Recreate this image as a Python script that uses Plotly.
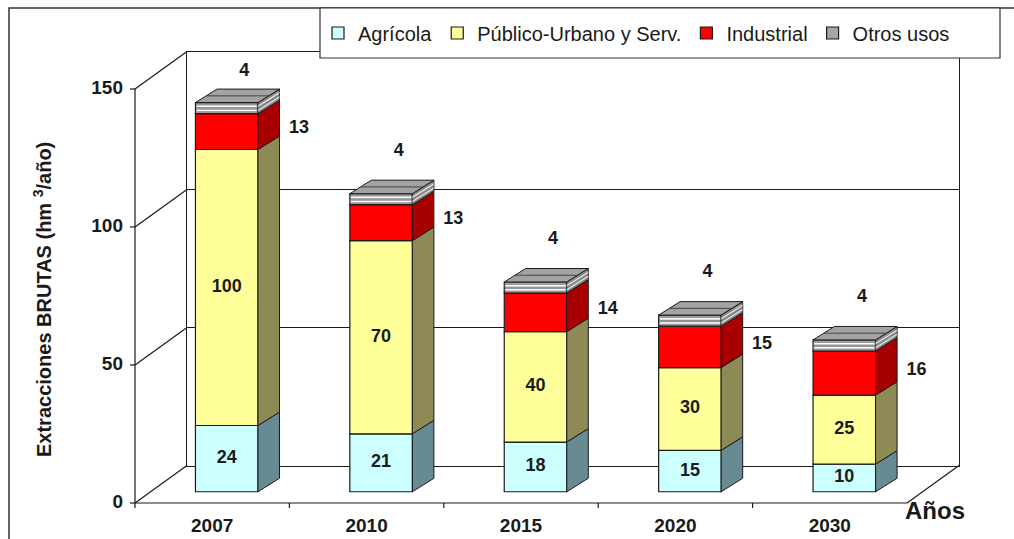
import plotly.graph_objects as go

# ---------------- data ----------------
years = ["2007", "2010", "2015", "2020", "2030"]
agricola = [24, 21, 18, 15, 10]
publico = [100, 70, 40, 30, 25]
industrial = [13, 13, 14, 15, 16]
otros = [4, 4, 4, 4, 4]
y_ticks = [0, 50, 100, 150]
series_names = ["Agrícola", "Público-Urbano y Serv.", "Industrial", "Otros usos"]
y_title = "Extracciones BRUTAS (hm <sup>3</sup>/año)"
x_title = "Años"

# ---------------- layout constants ----------------
W, H = 1014, 539
X0_PX = 135.0          # front-left edge of category axis (pixels)
CAT_PX = 154.4         # pixels per category
Y0_PX = 503.0          # front baseline (pixels)
UNIT_PX = 2.76         # pixels per value unit
WALL_DX_PX, WALL_DY_PX = 52.0, 37.5     # full depth offset of the walls
BAR_FRONT = 0.30                          # depth fraction of bar front faces
BAR_SIDE_DX_PX, BAR_SIDE_DY_PX = 21.5, 13.5
BAR_WIDTH = 0.405
BAR_SHIFT = 0.094
YMAX = 150

front_col = ["#CCFFFF", "#FFFF99", "#FF0000", "#A6A6A6"]
side_col = ["#688A92", "#8E8A55", "#A80000", "#8C8C8C"]
top_col = "#A3A3A3"
line_col = "#1a1a1a"
FONT = "Liberation Sans, Arial, sans-serif"

xr = [-0.5 - X0_PX / CAT_PX, -0.5 + (W - X0_PX) / CAT_PX]
yr = [-(H - Y0_PX) / UNIT_PX, Y0_PX / UNIT_PX]
WDX = WALL_DX_PX / CAT_PX
WDY = WALL_DY_PX / UNIT_PX
BDX = BAR_SIDE_DX_PX / CAT_PX
BDY = BAR_SIDE_DY_PX / UNIT_PX
BASE = BAR_FRONT * WDY
n = len(years)
xs = list(range(n))

series = [agricola, publico, industrial, otros]
cum = []
acc = [0] * n
for s in series:
    cum.append(acc[:])
    acc = [a + v for a, v in zip(acc, s)]
totals = acc

fig = go.Figure()

# back wall subplot (xy) - only axes frame + grid
fig.add_trace(go.Scatter(x=[0.5], y=[75], xaxis="x", yaxis="y", mode="markers",
                         marker=dict(size=1, opacity=0),
                         showlegend=False, hoverinfo="skip"))

# ------------- wall / axis lines on main subplot -------------
lx, ly = [], []
def seg(x0, y0, x1, y1):
    lx.extend([x0, x1, None]); ly.extend([y0, y1, None])

left = -0.5
right = n - 0.5
tick_y = 5 / UNIT_PX
tick_x = 5 / CAT_PX
seg(left, -tick_y, left, YMAX)
seg(left, 0, right, 0)
for v in y_ticks:
    seg(left, v, left + WDX, v + WDY)
    seg(left - tick_x, v, left, v)
seg(right, 0, right + WDX, WDY)
for k in range(n - 1):
    seg(k + 0.5, 0, k + 0.5, -tick_y)
fig.add_trace(go.Scatter(x=lx, y=ly, mode="lines", xaxis="x2", yaxis="y2",
                         line=dict(color=line_col, width=1.2),
                         showlegend=False, hoverinfo="skip"))

# ------------- bars (front faces) -------------
bx = [k + BAR_SHIFT for k in xs]
for i, (name, s) in enumerate(zip(series_names, series)):
    fig.add_trace(go.Bar(
        x=bx, y=s, base=[c + BASE for c in cum[i]], width=[BAR_WIDTH] * n,
        name=name, xaxis="x2", yaxis="y2",
        marker=dict(color=front_col[i], line=dict(color=line_col, width=1.2)),
        hoverinfo="skip"))

# white stripes inside "Otros usos"
stripes = [(0.18, 0.40), (0.55, 0.78)]
for lo, hi in stripes:
    fig.add_trace(go.Bar(
        x=bx, y=[(hi - lo) * v for v in otros],
        base=[c + BASE + lo * v for c, v in zip(cum[3], otros)],
        width=[BAR_WIDTH - 0.01] * n, xaxis="x2", yaxis="y2", showlegend=False,
        marker=dict(color="white", line=dict(color="#666666", width=0.6)),
        hoverinfo="skip"))

# ------------- side faces -------------
def side_poly(vals_lo, vals_hi):
    px, py = [], []
    for k in xs:
        xrgt = k + BAR_SHIFT + BAR_WIDTH / 2
        lo = vals_lo[k] + BASE
        hi = vals_hi[k] + BASE
        px.extend([xrgt, xrgt + BDX, xrgt + BDX, xrgt, xrgt, None])
        py.extend([lo, lo + BDY, hi + BDY, hi, lo, None])
    return px, py

for i, s in enumerate(series):
    hi = [c + v for c, v in zip(cum[i], s)]
    px, py = side_poly(cum[i], hi)
    fig.add_trace(go.Scatter(x=px, y=py, mode="lines", fill="toself",
                             fillcolor=side_col[i], xaxis="x2", yaxis="y2",
                             line=dict(color=line_col, width=1),
                             showlegend=False, hoverinfo="skip"))
for lo_f, hi_f in stripes:
    lo = [c + lo_f * v for c, v in zip(cum[3], otros)]
    hi = [c + hi_f * v for c, v in zip(cum[3], otros)]
    px, py = side_poly(lo, hi)
    fig.add_trace(go.Scatter(x=px, y=py, mode="lines", fill="toself",
                             fillcolor="#E0E0E0", xaxis="x2", yaxis="y2",
                             line=dict(color="#666666", width=0.6),
                             showlegend=False, hoverinfo="skip"))

# ------------- top faces -------------
tx, ty = [], []
for k in xs:
    xl = k + BAR_SHIFT - BAR_WIDTH / 2
    xrgt = k + BAR_SHIFT + BAR_WIDTH / 2
    t = totals[k] + BASE
    tx.extend([xl, xl + BDX, xrgt + BDX, xrgt, xl, None])
    ty.extend([t, t + BDY, t + BDY, t, t, None])
fig.add_trace(go.Scatter(x=tx, y=ty, mode="lines", fill="toself",
                         fillcolor=top_col, xaxis="x2", yaxis="y2",
                         line=dict(color=line_col, width=1),
                         showlegend=False, hoverinfo="skip"))
# middle line on top faces
mx, my = [], []
for k in xs:
    xl = k + BAR_SHIFT - BAR_WIDTH / 2
    xrgt = k + BAR_SHIFT + BAR_WIDTH / 2
    t = totals[k] + BASE
    mx.extend([xl + BDX / 2, xrgt + BDX / 2, None])
    my.extend([t + BDY / 2, t + BDY / 2, None])
fig.add_trace(go.Scatter(x=mx, y=my, mode="lines", xaxis="x2", yaxis="y2",
                         line=dict(color="#444444", width=1),
                         showlegend=False, hoverinfo="skip"))

# ------------- labels -------------
LBL = 18
def text_trace(x, y, txt, pos="middle center", size=LBL):
    fig.add_trace(go.Scatter(x=x, y=y, text=[f"<b>{t}</b>" for t in txt],
                             mode="text", textposition=pos, xaxis="x2", yaxis="y2",
                             textfont=dict(family=FONT, size=size, color="#1a1a1a"),
                             showlegend=False, hoverinfo="skip", cliponaxis=False))

# inside labels
for i in (0, 1):
    text_trace(bx, [c + v / 2 + BASE for c, v in zip(cum[i], series[i])],
               [str(v) for v in series[i]])
# industrial labels to the right
text_trace([k + BAR_SHIFT + BAR_WIDTH / 2 + 0.265 for k in xs],
           [c + v / 2 + BASE + 1 for c, v in zip(cum[2], industrial)],
           [str(v) for v in industrial])
# otros labels above
text_trace([k + BAR_SHIFT + 0.114 for k in xs],
           [min(t + 19.5, 156.5) for t in totals],
           [str(v) for v in otros])
# y tick labels
text_trace([left - 12 / CAT_PX] * len(y_ticks), y_ticks,
           [str(v) for v in y_ticks], pos="middle left", size=19)
# category labels
text_trace(xs, [-24 / UNIT_PX] * n, years, size=19)
# axis title "Años"
text_trace([right + 28 / CAT_PX], [-10 / UNIT_PX], [x_title], size=24)

fig.add_annotation(x=left - 93 / CAT_PX, y=(Y0_PX - 300) / UNIT_PX, xref="x2", yref="y2",
                   text=f"<b>{y_title}</b>", textangle=-90, showarrow=False,
                   font=dict(family=FONT, size=20, color="#1a1a1a"))

# ------------- layout -------------
fig.update_layout(
    width=W, height=H, margin=dict(l=0, r=0, t=0, b=0),
    paper_bgcolor="white", plot_bgcolor="rgba(0,0,0,0)",
    barmode="overlay", showlegend=True,
    xaxis=dict(domain=[(X0_PX + WALL_DX_PX) / W, (X0_PX + n * CAT_PX + WALL_DX_PX) / W],
               range=[0, 1], anchor="y", showgrid=False, zeroline=False,
               showticklabels=False, ticks="", showline=True, mirror=True,
               linecolor=line_col, linewidth=1.2),
    yaxis=dict(domain=[1 - (Y0_PX - WALL_DY_PX) / H,
                       1 - (Y0_PX - WALL_DY_PX - YMAX * UNIT_PX) / H],
               range=[0, YMAX], anchor="x", tickvals=[50, 100], showgrid=True,
               gridcolor=line_col, gridwidth=1.2, zeroline=False,
               showticklabels=False, ticks="", showline=True, mirror=True,
               linecolor=line_col, linewidth=1.2),
    xaxis2=dict(domain=[0, 1], range=xr, anchor="y2", visible=False),
    yaxis2=dict(domain=[0, 1], range=yr, anchor="x2", visible=False),
    legend=dict(orientation="h", x=318 / W, xanchor="left", y=1 - 33 / H, yanchor="middle",
                bgcolor="rgba(0,0,0,0)", borderwidth=0,
                font=dict(family=FONT, size=20, color="#1a1a1a"),
                itemwidth=30, traceorder="normal"),
    shapes=[
        dict(type="rect", xref="paper", yref="paper", x0=9 / W, x1=1.05,
             y0=-0.05, y1=1 - 8 / H, line=dict(color="#333333", width=1.5),
             fillcolor="rgba(0,0,0,0)", layer="above"),
        dict(type="rect", xref="paper", yref="paper", x0=320 / W, x1=1000 / W,
             y0=1 - 58 / H, y1=1 - 8 / H, line=dict(color="#333333", width=1.2),
             fillcolor="white", layer="above"),
    ],
)

fig.write_html("out.html")
